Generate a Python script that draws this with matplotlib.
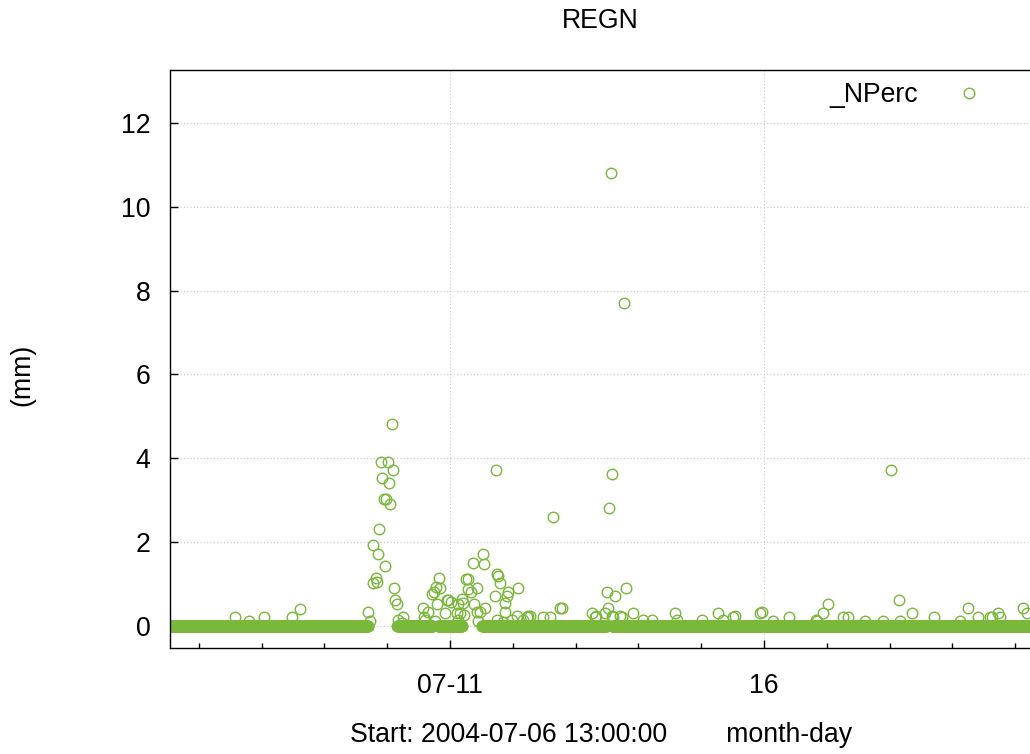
import numpy as np
import pandas as pd
import matplotlib
matplotlib.use('Agg')
import matplotlib.pyplot as plt
import matplotlib.dates as mdates
from matplotlib.lines import Line2D

plt.rcParams['font.family'] = ['Liberation Sans', 'DejaVu Sans']

# hours counted from the start time 2004-07-06 13:00
start = pd.Timestamp('2004-07-06 13:00:00')

# stretches where the gauge reads 0 mm (10 min samples)
zero_spans = [(0.0, 75.7), (86.8, 100.5), (102.4, 111.6), (119.2, 167.0), (168.9, 330.0)]

# non zero readings
rain_hours = [24.84, 30.19, 35.92, 46.62, 49.68, 75.78, 76.43,
              77.57, 77.69, 78.61, 79.11, 79.61, 79.99, 80.64, 81.13, 81.78, 82.17,
              82.66, 83.20, 83.58, 84.08, 84.73, 85.11, 85.61, 85.99, 86.64, 87.25,
              88.55, 89.16,
              96.80, 97.07, 97.45, 98.49, 100.24, 100.78, 101.28, 101.66, 101.92, 102.61,
              103.19, 105.10, 105.98, 106.36, 107.39, 109.57, 110.18, 110.18, 110.83,
              111.48, 112.09, 112.47, 113.12, 114.00, 114.00, 115.03, 115.68, 116.30,
              117.21, 117.21, 117.82, 118.47, 119.73, 120.11, 120.38, 124.21, 124.47,
              124.86, 125.08, 125.47, 126.12, 127.38, 128.03, 128.03, 128.68, 129.29,
              130.59, 132.50, 133.11, 135.02, 136.32, 136.70,
              137.58, 142.66, 145.22, 146.49, 149.05, 149.81, 161.16, 162.42, 162.80,
              166.24, 166.89, 167.51, 167.89, 168.54, 168.80, 169.03, 169.42, 170.07,
              171.98, 172.63, 173.62, 174.15, 177.06, 180.88, 184.09,
              193.00, 193.64, 203.20, 209.55, 211.45, 215.28, 215.93, 225.48, 226.13,
              230.57, 236.68, 246.88, 247.15, 249.44, 251.58, 257.09, 259.23, 265.61,
              272.60, 275.54, 278.49, 278.98, 283.46, 292.09, 301.91, 305.09, 308.91,
              313.38, 314.03, 316.55, 317.20, 326.11, 327.41]
rain_mm = [0.21, 0.12, 0.21, 0.21, 0.40, 0.34, 0.13,
           1.03, 1.92, 1.14, 1.06, 1.71, 2.32, 3.91, 3.52, 3.02, 1.42,
           3.02, 3.91, 3.42, 2.92, 4.81, 3.72, 0.91, 0.62, 0.52, 0.14,
           0.06, 0.22,
           0.42, 0.22, 0.14, 0.34, 0.76, 0.82, 0.13, 0.94, 0.52, 1.14,
           0.91, 0.32, 0.62, 0.62, 0.58, 0.32, 0.52, 0.14, 0.32,
           0.64, 0.54, 0.26, 1.12, 1.11, 0.88, 0.82, 1.51, 0.52,
           0.91, 0.34, 0.13, 0.34, 1.71, 1.49, 0.42, 0.72, 3.72,
           0.14, 1.23, 1.19, 1.02, 0.10, 0.54, 0.34, 0.72, 0.82,
           0.14, 0.24, 0.91, 0.14, 0.22, 0.24,
           0.24, 0.22, 0.22, 2.61, 0.42, 0.42, 0.32, 0.22, 0.24,
           0.32, 0.82, 0.42, 2.81, 10.81, 0.24, 3.62, 0.22, 0.72,
           0.24, 0.22, 7.71, 0.91, 0.32, 0.14, 0.14,
           0.32, 0.14, 0.14, 0.32, 0.14, 0.22, 0.24, 0.32, 0.33,
           0.13, 0.22, 0.14, 0.13, 0.32, 0.52, 0.22, 0.22, 0.13,
           0.13, 3.71, 0.62, 0.13, 0.32, 0.22, 0.13, 0.42, 0.22,
           0.22, 0.22, 0.32, 0.22, 0.42, 0.30]

zero_hours = np.concatenate([np.arange(a, b, 1 / 6) for a, b in zero_spans])
hours = np.concatenate([zero_hours, rain_hours])
vals = np.concatenate([np.zeros(len(zero_hours)), rain_mm])
order = np.argsort(hours)
times = start + pd.to_timedelta(hours[order], unit='h')
vals = vals[order]

green = '#79b83a'
fs = 19.2
fig = plt.figure(figsize=(10.30, 7.54), dpi=100)
ax = fig.add_axes([170 / 1030, 106 / 754, 863 / 1030, 578 / 754])

ax.plot(times, vals, 'o', mfc='none', mec=green, ms=7.6, mew=1.0, clip_on=True)

ax.set_xlim(start, start + pd.Timedelta(hours=329.8))
ax.set_ylim(-0.525, 13.26)

ax.set_yticks(range(0, 13, 2))
ax.set_xticks([pd.Timestamp('2004-07-11'), pd.Timestamp('2004-07-16')])
ax.set_xticklabels(['07-11', '16'])
ax.xaxis.set_minor_locator(mdates.DayLocator())
ax.tick_params(axis='both', which='major', direction='in', length=6, width=1,
               labelsize=fs, colors='black')
ax.tick_params(axis='x', which='major', pad=18)
ax.tick_params(axis='y', which='major', pad=14)
ax.tick_params(axis='x', which='minor', direction='in', length=3.5, width=1)

ax.grid(True, which='major', color='#c8c8c8', linestyle=(0, (1, 2)), linewidth=0.8)
ax.set_axisbelow(True)
for s in ax.spines.values():
    s.set_linewidth(1.0)
    s.set_color('black')
ax.spines['right'].set_visible(False)

fig.text(600 / 1030, 1 - 21 / 754, 'REGN', ha='center', va='center', fontsize=fs)
fig.text(601 / 1030, 1 - 735 / 754, 'Start: 2004-07-06 13:00:00        month-day',
         ha='center', va='center', fontsize=fs)
fig.text(22 / 1030, 1 - 375 / 754, '(mm)', ha='center', va='center', rotation=90,
         fontsize=fs)

h = Line2D([], [], marker='o', ls='none', mfc='none', mec=green, ms=7.6, mew=1.0)
fig.legend([h], ['_NPerc'], loc='center right', bbox_to_anchor=(1009 / 1030, 1 - 95 / 754),
           frameon=False, markerfirst=False, handlelength=2, handletextpad=0.9,
           borderpad=0, fontsize=fs)

fig.savefig('out.png', dpi=100)
